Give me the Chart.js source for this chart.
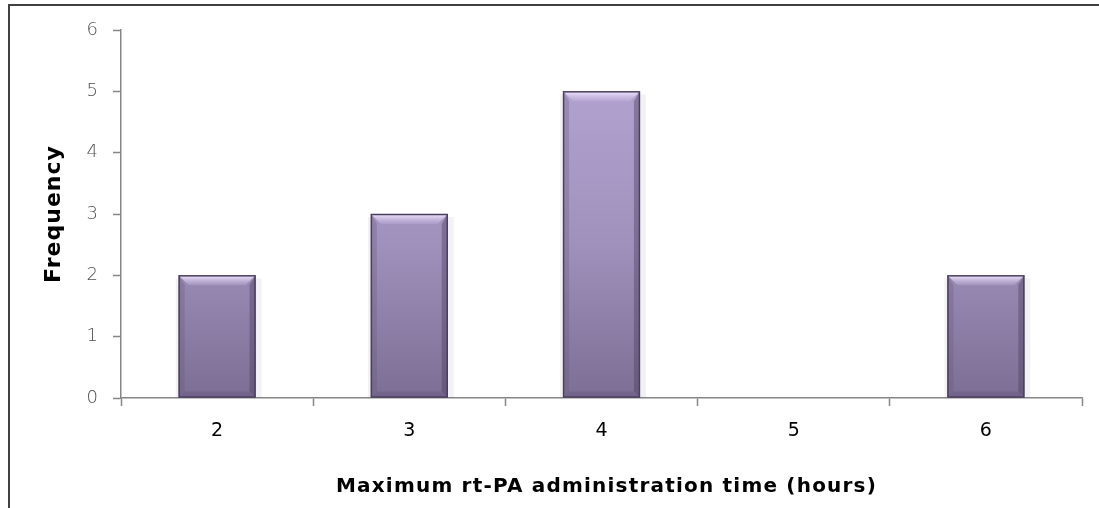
<!DOCTYPE html>
<html>
<head>
<meta charset="utf-8">
<script src="https://cdn.jsdelivr.net/npm/chart.js@4.4.0/dist/chart.umd.min.js"></script>
<style>
html,body{margin:0;padding:0;background:#fff;overflow:hidden;}
canvas{position:absolute;left:0;top:0;}
</style>
</head>
<body>
<canvas id="c" width="1099" height="508"></canvas>
<script>
const categories = ['2','3','4','5','6'];
const frequency = [2, 3, 5, 0, 2];
const yTicks = [0,1,2,3,4,5,6];
const xTitle = 'Maximum rt-PA administration time (hours)';
const yTitle = 'Frequency';

const frame = {
  id: 'frame',
  beforeDraw(chart) {
    const ctx = chart.ctx;
    ctx.save();
    ctx.strokeStyle = '#404040';
    ctx.lineWidth = 2;
    ctx.beginPath();
    ctx.moveTo(9, 508); ctx.lineTo(9, 5); ctx.lineTo(1099, 5);
    ctx.stroke();
    ctx.restore();
  },
  afterDraw(chart) {
    const ctx = chart.ctx;
    const a = chart.chartArea;
    ctx.save();
    ctx.fillStyle = '#000';
    ctx.textAlign = 'center';
    ctx.textBaseline = 'middle';
    ctx.font = 'bold 20px "DejaVu Sans"';
    ctx.letterSpacing = '1.2px';
    ctx.fillText(xTitle, (a.left + a.right) / 2 + 5, 487);
    ctx.translate(54, (a.top + a.bottom) / 2);
    ctx.rotate(-Math.PI / 2);
    ctx.font = 'bold 22px "DejaVu Sans"';
    ctx.letterSpacing = '1px';
    ctx.fillText(yTitle, 0, 0);
    ctx.restore();
  }
};

const bevel = {
  id: 'bevel',
  afterDatasetsDraw(chart) {
    const ctx = chart.ctx;
    const meta = chart.getDatasetMeta(0);
    meta.data.forEach((bar, i) => {
      if (!frequency[i]) return;
      const l = bar.x - bar.width/2, r = bar.x + bar.width/2;
      const t = bar.y, b = bar.base;
      const d = 10;
      ctx.save();
      let g = ctx.createLinearGradient(0, t, 0, t + d);
      g.addColorStop(0, 'rgba(245,235,255,0.95)');
      g.addColorStop(1, 'rgba(210,195,235,0.2)');
      ctx.fillStyle = g;
      ctx.beginPath();
      ctx.moveTo(l, t); ctx.lineTo(r, t); ctx.lineTo(r - d, t + d); ctx.lineTo(l + d, t + d); ctx.closePath();
      ctx.fill();
      ctx.fillStyle = 'rgba(100,85,125,0.3)';
      ctx.beginPath();
      ctx.moveTo(l, t); ctx.lineTo(l + 6, t + d); ctx.lineTo(l + 6, b - 6); ctx.lineTo(l, b); ctx.closePath();
      ctx.fill();
      ctx.fillStyle = 'rgba(70,58,92,0.4)';
      ctx.beginPath();
      ctx.moveTo(r, t); ctx.lineTo(r - 6, t + d); ctx.lineTo(r - 6, b - 6); ctx.lineTo(r, b); ctx.closePath();
      ctx.fill();
      ctx.fillStyle = 'rgba(90,75,115,0.3)';
      ctx.beginPath();
      ctx.moveTo(l, b); ctx.lineTo(l + 6, b - 6); ctx.lineTo(r - 6, b - 6); ctx.lineTo(r, b); ctx.closePath();
      ctx.fill();
      ctx.strokeStyle = '#4a3f5e';
      ctx.lineWidth = 1.5;
      ctx.strokeRect(l + 0.5, t + 0.5, r - l - 1, b - t - 1);
      ctx.restore();
    });
  }
};

const shadow = {
  id: 'shadow',
  beforeDatasetsDraw(chart) {
    const ctx = chart.ctx;
    chart.getDatasetMeta(0).data.forEach((bar, i) => {
      if (!frequency[i]) return;
      const r = bar.x + bar.width/2, l = bar.x - bar.width/2;
      ctx.save();
      ctx.fillStyle = 'rgba(0,0,0,0.05)';
      ctx.fillRect(r, bar.y + 3, 6, bar.base - bar.y - 3);
      ctx.fillRect(l - 3, bar.y + 3, 3, bar.base - bar.y - 3);
      ctx.restore();
    });
  }
};

new Chart(document.getElementById('c'), {
  type: 'bar',
  data: {
    labels: categories,
    datasets: [{
      data: frequency,
      backgroundColor(ctx) {
        const chart = ctx.chart; const a = chart.chartArea;
        if (!a) return '#9a8ab5';
        const g = chart.ctx.createLinearGradient(0, a.top + 60, 0, a.bottom);
        g.addColorStop(0, '#b1a1cf');
        g.addColorStop(0.5, '#a091bc');
        g.addColorStop(1, '#7c6e94');
        return g;
      },
      borderWidth: 0,
      barPercentage: 0.4,
      categoryPercentage: 1.0
    }]
  },
  options: {
    responsive: false,
    animation: false,
    layout: { padding: { top: 30, right: 17, left: 0, bottom: 0 } },
    plugins: { legend: { display: false }, tooltip: { enabled: false } },
    scales: {
      x: {
        grid: { display: true, drawOnChartArea: false, drawTicks: true, tickLength: 8, tickColor: '#868686', tickWidth: 1.5, offset: true },
        border: { display: true, color: '#868686', width: 1.5 },
        ticks: { color: '#000', font: { family: 'DejaVu Sans', size: 19 }, padding: 14 },
        afterFit(s) { s.height = 110; }
      },
      y: {
        min: 0, max: 6,
        afterBuildTicks(s) { s.ticks = yTicks.map(v => ({ value: v })); },
        grid: { display: true, drawOnChartArea: false, drawTicks: true, tickLength: 8, tickColor: '#868686', tickWidth: 1.5 },
        border: { display: true, color: '#868686', width: 1.5 },
        ticks: { color: '#505050', font: { family: 'DejaVu Sans', size: 18, weight: '300' }, padding: 15 },
        afterFit(s) { s.width = 121; }
      }
    }
  },
  plugins: [frame, shadow, bevel]
});
</script>
</body>
</html>
